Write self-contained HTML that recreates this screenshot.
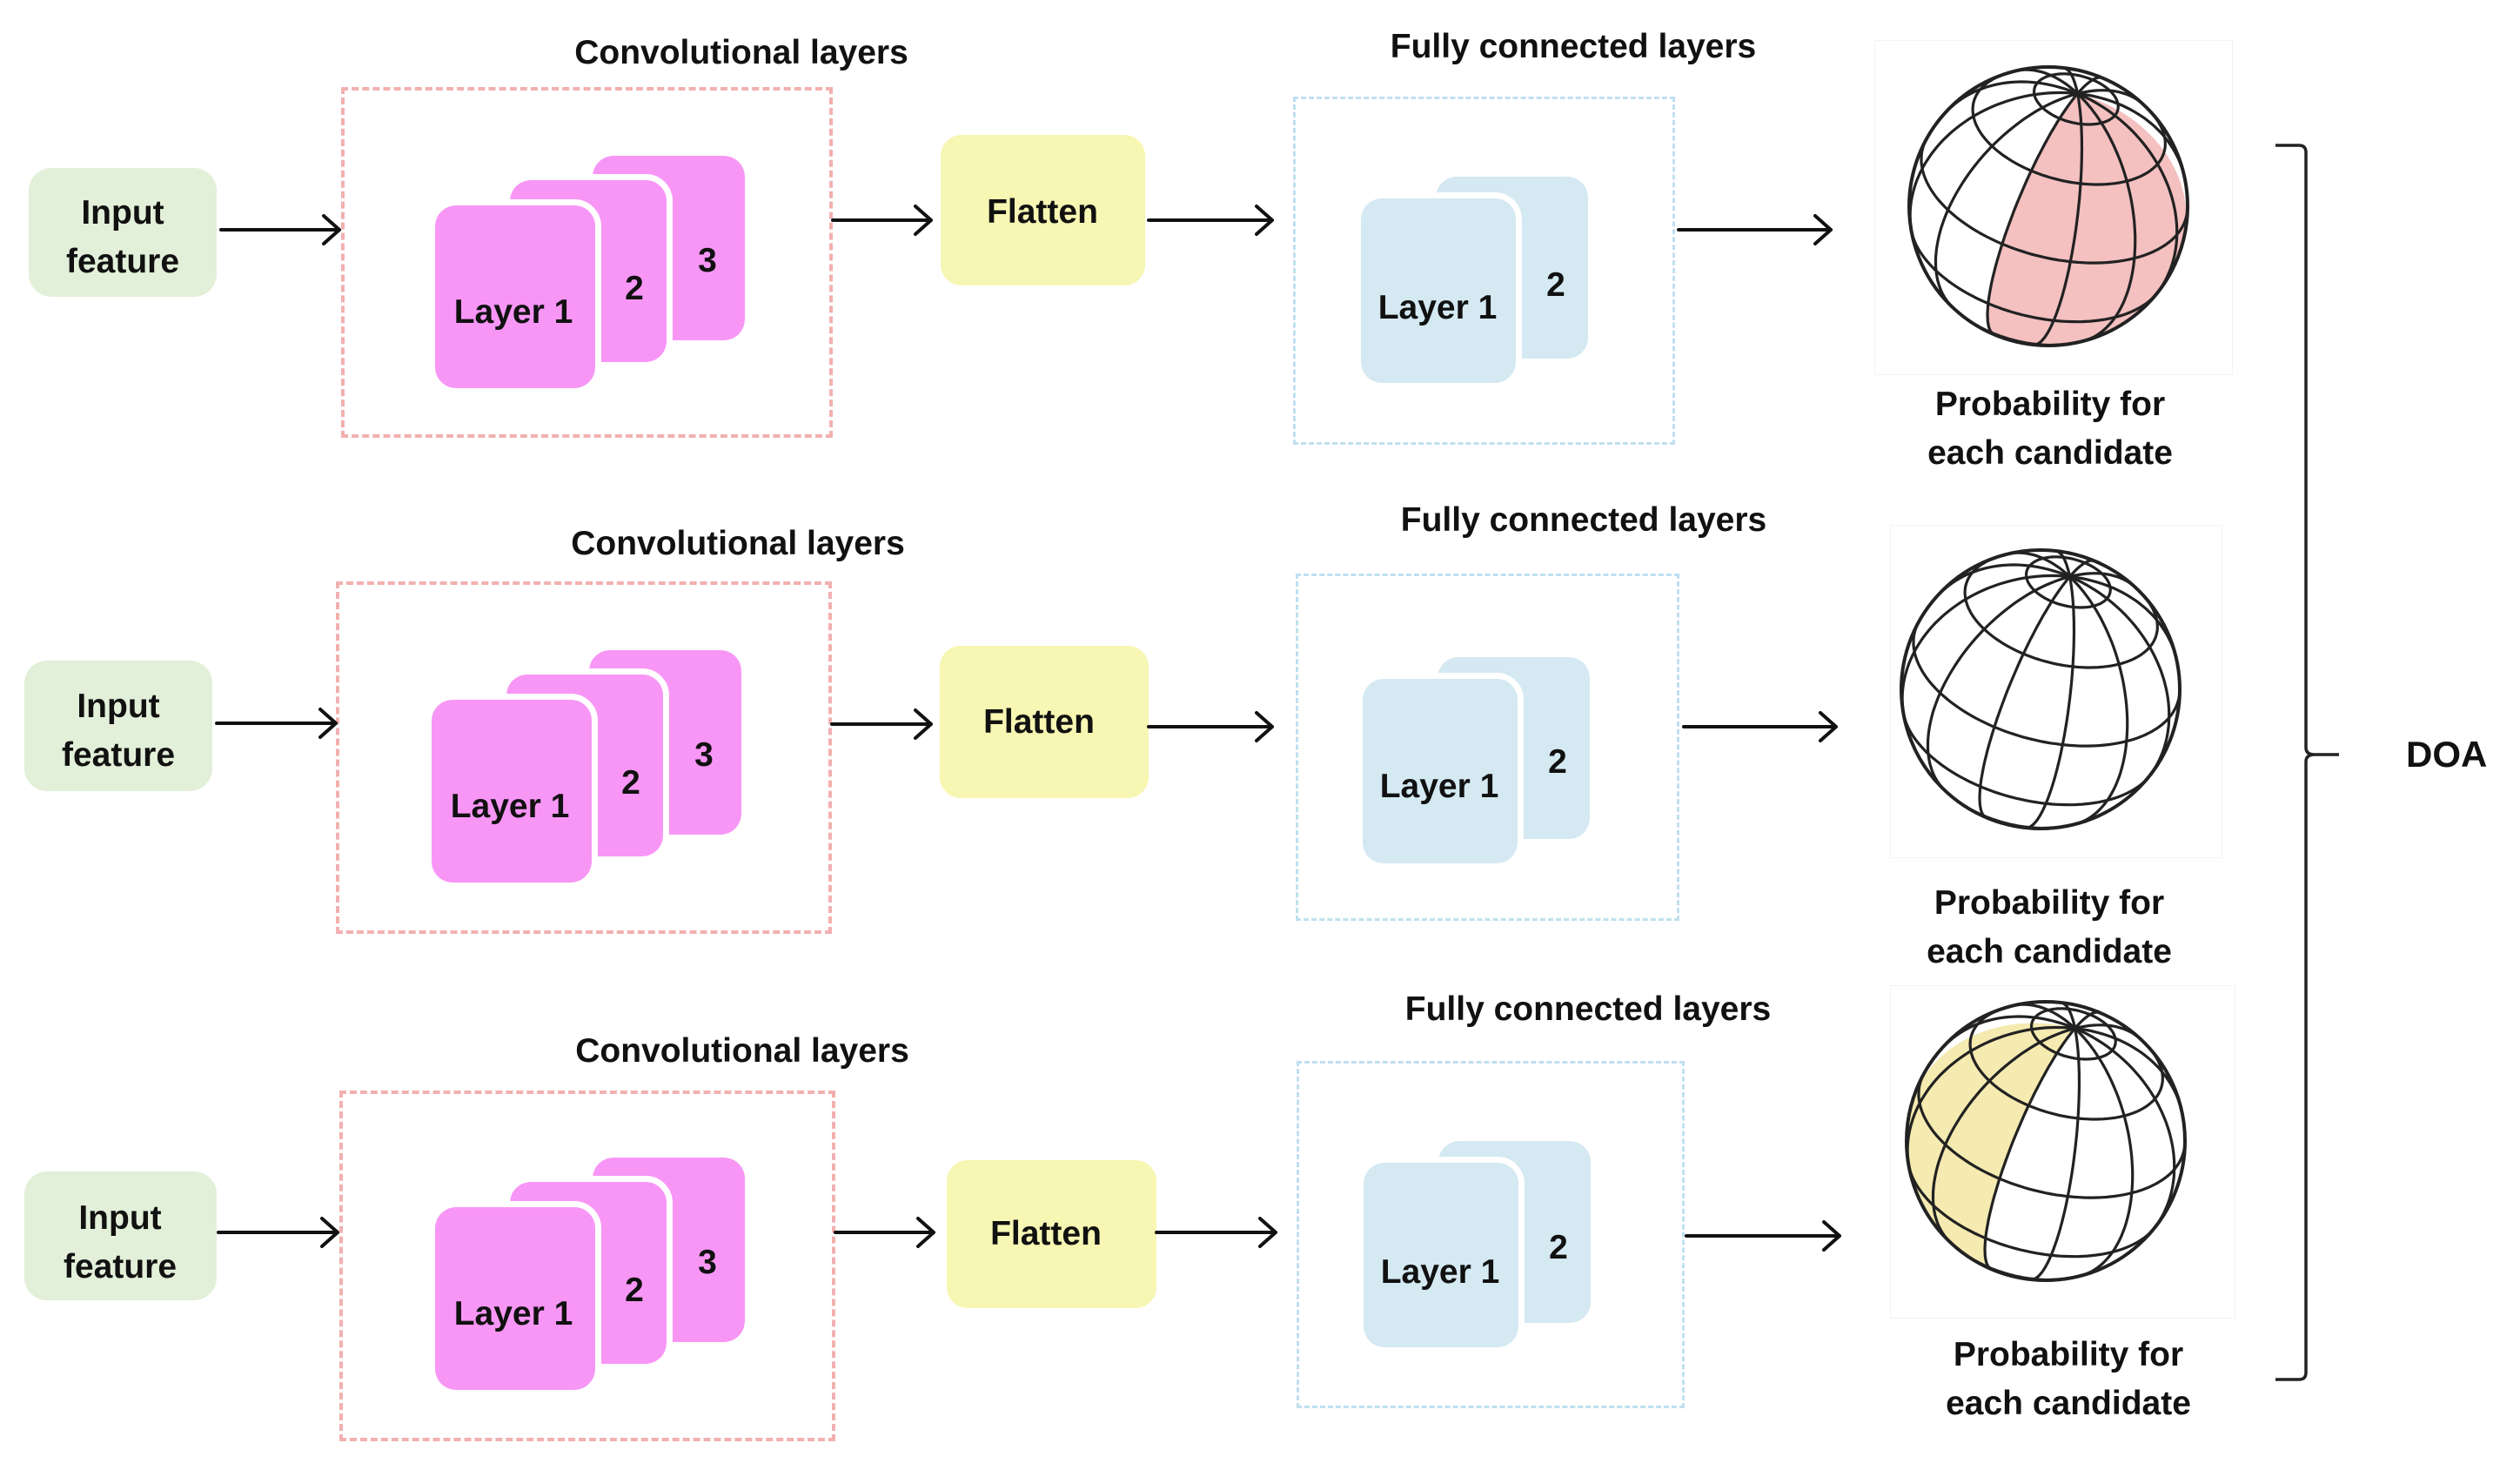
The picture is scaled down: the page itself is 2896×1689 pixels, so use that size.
<!DOCTYPE html>
<html><head><meta charset="utf-8">
<style>
html,body{margin:0;padding:0;background:#fff;}
body{width:2896px;height:1689px;position:relative;overflow:hidden;font-family:"Liberation Sans",sans-serif;color:#111;}
.a{position:absolute;box-sizing:border-box;}
.in{background:#e2efd9;border-radius:26px;}
.conv{border:4px dashed #f2b0b0;}
.fc{border:3px dashed #bfe0ee;}
.pk{background:#f896f6;border-radius:24px;outline:7px solid #fff;}
.bl{background:#d4e9f2;border-radius:24px;outline:7px solid #fff;}
.fl{background:#f7f6b3;border-radius:24px;}
.t{position:absolute;font-weight:bold;font-size:39px;text-align:center;white-space:nowrap;line-height:50px;height:50px;transform:translate(-50%,-50%);}
.t2{position:absolute;font-weight:bold;font-size:39px;text-align:center;white-space:nowrap;line-height:56px;transform:translate(-50%,-50%);}
.sb{position:absolute;border:1px solid #f3f3f3;background:#fff;}
</style></head><body>

<!-- ROW 1 -->
<div class="a in" style="left:33px;top:193px;width:216px;height:148px"></div>
<div class="t2" style="left:141px;top:273px">Input<br>feature</div>
<div class="t" style="left:852px;top:61px">Convolutional layers</div>
<div class="a conv" style="left:392px;top:100px;width:565px;height:403px"></div>
<div class="a pk" style="left:681px;top:179px;width:175px;height:212px"></div>
<div class="a pk" style="left:586px;top:207px;width:180px;height:209px"></div>
<div class="a pk" style="left:500px;top:236px;width:184px;height:210px"></div>
<div class="t" style="left:813px;top:300px">3</div>
<div class="t" style="left:729px;top:332px">2</div>
<div class="t" style="left:590px;top:359px">Layer 1</div>
<div class="a fl" style="left:1081px;top:155px;width:235px;height:173px"></div>
<div class="t" style="left:1198px;top:244px">Flatten</div>
<div class="t" style="left:1808px;top:54px">Fully connected layers</div>
<div class="a fc" style="left:1486px;top:111px;width:439px;height:400px"></div>
<div class="a bl" style="left:1650px;top:203px;width:175px;height:209px"></div>
<div class="a bl" style="left:1564px;top:228px;width:178px;height:212px"></div>
<div class="t" style="left:1788px;top:328px">2</div>
<div class="t" style="left:1652px;top:354px">Layer 1</div>
<div class="sb" style="left:2154px;top:46px;width:410px;height:383px"></div>
<div class="t2" style="left:2356px;top:493px">Probability for<br>each candidate</div>

<!-- ROW 2 -->
<div class="a in" style="left:28px;top:759px;width:216px;height:150px"></div>
<div class="t2" style="left:136px;top:840px">Input<br>feature</div>
<div class="t" style="left:848px;top:625px">Convolutional layers</div>
<div class="a conv" style="left:386px;top:668px;width:570px;height:405px"></div>
<div class="a pk" style="left:677px;top:747px;width:175px;height:212px"></div>
<div class="a pk" style="left:582px;top:775px;width:180px;height:209px"></div>
<div class="a pk" style="left:496px;top:804px;width:184px;height:210px"></div>
<div class="t" style="left:809px;top:868px">3</div>
<div class="t" style="left:725px;top:900px">2</div>
<div class="t" style="left:586px;top:927px">Layer 1</div>
<div class="a fl" style="left:1080px;top:742px;width:240px;height:175px"></div>
<div class="t" style="left:1194px;top:830px">Flatten</div>
<div class="t" style="left:1820px;top:598px">Fully connected layers</div>
<div class="a fc" style="left:1489px;top:659px;width:441px;height:399px"></div>
<div class="a bl" style="left:1652px;top:755px;width:175px;height:209px"></div>
<div class="a bl" style="left:1566px;top:780px;width:178px;height:212px"></div>
<div class="t" style="left:1790px;top:876px">2</div>
<div class="t" style="left:1654px;top:904px">Layer 1</div>
<div class="sb" style="left:2172px;top:603px;width:380px;height:381px"></div>
<div class="t2" style="left:2355px;top:1066px">Probability for<br>each candidate</div>

<!-- ROW 3 -->
<div class="a in" style="left:28px;top:1346px;width:221px;height:148px"></div>
<div class="t2" style="left:138px;top:1428px">Input<br>feature</div>
<div class="t" style="left:853px;top:1208px">Convolutional layers</div>
<div class="a conv" style="left:390px;top:1253px;width:570px;height:403px"></div>
<div class="a pk" style="left:681px;top:1330px;width:175px;height:212px"></div>
<div class="a pk" style="left:586px;top:1358px;width:180px;height:209px"></div>
<div class="a pk" style="left:500px;top:1387px;width:184px;height:210px"></div>
<div class="t" style="left:813px;top:1451px">3</div>
<div class="t" style="left:729px;top:1483px">2</div>
<div class="t" style="left:590px;top:1510px">Layer 1</div>
<div class="a fl" style="left:1088px;top:1333px;width:241px;height:170px"></div>
<div class="t" style="left:1202px;top:1418px">Flatten</div>
<div class="t" style="left:1825px;top:1160px">Fully connected layers</div>
<div class="a fc" style="left:1490px;top:1219px;width:446px;height:399px"></div>
<div class="a bl" style="left:1653px;top:1311px;width:175px;height:209px"></div>
<div class="a bl" style="left:1567px;top:1336px;width:178px;height:212px"></div>
<div class="t" style="left:1791px;top:1434px">2</div>
<div class="t" style="left:1655px;top:1462px">Layer 1</div>
<div class="sb" style="left:2172px;top:1132px;width:395px;height:381px"></div>
<div class="t2" style="left:2377px;top:1585px">Probability for<br>each candidate</div>

<div class="a" style="left:2765px;top:842px;font-weight:bold;font-size:42px;line-height:50px">DOA</div>

<svg id="ov" class="a" style="left:0;top:0" width="2896" height="1689" viewBox="0 0 2896 1689">
<g stroke="#111" stroke-width="4" fill="none" stroke-linecap="round" stroke-linejoin="round">
<path d="M254 264H390M372 248L390 264L372 280"/>
<path d="M957 253H1070M1052 237L1070 253L1052 269"/>
<path d="M1320 253H1462M1444 237L1462 253L1444 269"/>
<path d="M1929 264H2104M2086 248L2104 264L2086 280"/>

<path d="M249 831H386M368 815L386 831L368 847"/>
<path d="M956 832H1070M1052 816L1070 832L1052 848"/>
<path d="M1320 835H1462M1444 819L1462 835L1444 851"/>
<path d="M1935 835H2110M2092 819L2110 835L2092 851"/>

<path d="M251 1416H388M370 1400L388 1416L370 1432"/>
<path d="M960 1416H1073M1055 1400L1073 1416L1055 1432"/>
<path d="M1329 1416H1466M1448 1400L1466 1416L1448 1432"/>
<path d="M1938 1420H2114M2096 1404L2114 1420L2096 1436"/>
</g>
<g stroke="#222" stroke-width="3.5" fill="none">
<path d="M2615 167H2642Q2650 167 2650 175V859Q2650 867 2660 867H2688M2660 867Q2650 867 2650 875V1577Q2650 1585 2642 1585H2615"/>
</g>
<g id="spheres"></g>
</svg>
<script>
(function(){
var g=document.getElementById('spheres');var NS='http://www.w3.org/2000/svg';
function norm(v){var l=Math.hypot(v[0],v[1],v[2]);return[v[0]/l,v[1]/l,v[2]/l];}
function cross(a,b){return[a[1]*b[2]-a[2]*b[1],a[2]*b[0]-a[0]*b[2],a[0]*b[1]-a[1]*b[0]];}
var p=norm([0.21,0.81,0.55]);
var d=p[2];var e1=norm([-d*p[0],-d*p[1],1-d*p[2]]);var e2=cross(p,e1);
function pt(lat,lon){lat*=Math.PI/180;lon*=Math.PI/180;var c=Math.cos(lat),s=Math.sin(lat);
return[c*Math.cos(lon)*e1[0]+c*Math.sin(lon)*e2[0]+s*p[0],c*Math.cos(lon)*e1[1]+c*Math.sin(lon)*e2[1]+s*p[1],c*Math.cos(lon)*e1[2]+c*Math.sin(lon)*e2[2]+s*p[2]];}
function add(tag,at){var e=document.createElementNS(NS,tag);for(var k in at)e.setAttribute(k,at[k]);g.appendChild(e);return e;}
function sphere(cx,cy,r,fill,la,lb){
 if(fill){var pts=[];
  for(var t=-90;t<=90;t+=2)pts.push(pt(t,la));
  for(var t=90;t>=-90;t-=2)pts.push(pt(t,lb));
  var s=pts.map(function(v){var x=v[0],y=v[1];if(v[2]<0){var l=Math.hypot(x,y);x/=l;y/=l;}return (cx+r*x).toFixed(1)+','+(cy-r*y).toFixed(1);}).join(' ');
  add('polygon',{points:s,fill:fill,stroke:'none'});}
 function line(f,a0,a1){var segs=[],cur=[];for(var t=a0;t<=a1+0.001;t+=2){var v=f(t);if(v[2]>=-0.02){cur.push((cx+r*v[0]).toFixed(1)+','+(cy-r*v[1]).toFixed(1));}else{if(cur.length>1)segs.push(cur);cur=[];}}
  if(cur.length>1)segs.push(cur);segs.forEach(function(c){add('polyline',{points:c.join(' '),fill:'none',stroke:'#222','stroke-width':3.2});});}
 for(var lon=-165;lon<180;lon+=30){(function(L){line(function(t){return pt(t,L);},-90,90);})(lon);}
 [-50,-20,12,45,72].forEach(function(lat){line(function(t){return pt(lat,t);},-180,180);});
 add('circle',{cx:cx,cy:cy,r:r,fill:'none',stroke:'#222','stroke-width':4});
}
sphere(2354,237,160,'#f4c0c0',-15,90);
sphere(2345,792,160,null);
sphere(2351,1311,160,'#f5eab0',-90,-15);
})();
</script>
</body></html>
